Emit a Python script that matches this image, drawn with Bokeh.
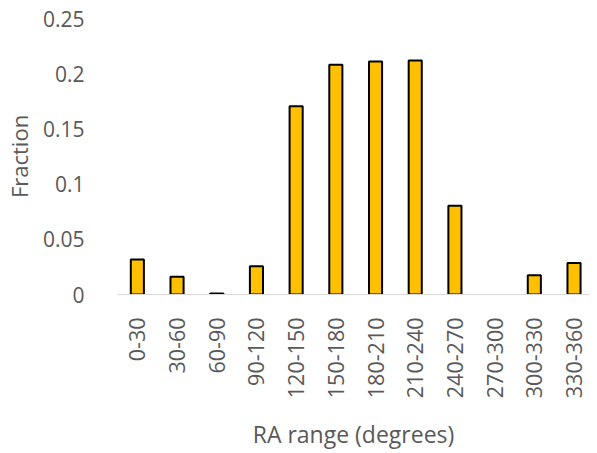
from bokeh.plotting import figure
from bokeh.models import FixedTicker, Range1d, ColumnDataSource
from bokeh.embed import file_html
from bokeh.resources import INLINE
import math

categories = ["0-30", "30-60", "60-90", "90-120", "120-150", "150-180",
              "180-210", "210-240", "240-270", "270-300", "300-330", "330-360"]
fractions = [0.0316, 0.016, 0.001, 0.0255, 0.1706, 0.208,
             0.211, 0.212, 0.0803, 0.0, 0.0174, 0.0286]
y_ticks = [0, 0.05, 0.1, 0.15, 0.2, 0.25]
y_tick_labels = ["0", "0.05", "0.1", "0.15", "0.2", "0.25"]

xs = list(range(len(categories)))
shown = [(x, f) for x, f in zip(xs, fractions) if f > 0]
src = ColumnDataSource(dict(x=[s[0] for s in shown], top=[s[1] for s in shown]))

p = figure(width=589, height=453, output_backend="svg", toolbar_location=None,
           x_range=Range1d(-0.5, 11.39), y_range=Range1d(0, 0.25),
           min_border_left=108, min_border_top=18, min_border_right=0,
           min_border_bottom=158)
p.outline_line_color = None
p.xgrid.visible = False
p.ygrid.visible = False

p.vbar(x="x", top="top", width=0.33, bottom=0, source=src,
       fill_color="#FFC000", line_color="black", line_width=2)

font = "Open Sans"
grey = "#595959"

p.xaxis.ticker = FixedTicker(ticks=xs)
p.xaxis.major_label_overrides = {i: c for i, c in enumerate(categories)}
p.xaxis.major_label_orientation = math.pi / 2
p.xaxis.axis_line_color = "#D9D9D9"
p.xaxis.axis_line_width = 1
p.xaxis.major_tick_line_color = None
p.xaxis.minor_tick_line_color = None
p.xaxis.major_label_standoff = 17
p.xaxis.major_label_text_font = font
p.xaxis.major_label_text_font_size = "21.5px"
p.xaxis.major_label_text_color = grey
p.xaxis.axis_label = "RA range (degrees)"
p.xaxis.axis_label_text_font = font
p.xaxis.axis_label_text_font_size = "23px"
p.xaxis.axis_label_text_font_style = "normal"
p.xaxis.axis_label_text_color = grey
p.xaxis.axis_label_standoff = 17

p.yaxis.ticker = FixedTicker(ticks=y_ticks)
p.yaxis.major_label_overrides = {t: l for t, l in zip(y_ticks, y_tick_labels)}
p.yaxis.axis_line_color = None
p.yaxis.major_tick_line_color = None
p.yaxis.minor_tick_line_color = None
p.yaxis.major_label_standoff = 27
p.yaxis.major_label_text_font = font
p.yaxis.major_label_text_font_size = "21px"
p.yaxis.major_label_text_color = grey
p.yaxis.axis_label = "Fraction"
p.yaxis.axis_label_text_font = font
p.yaxis.axis_label_text_font_size = "22px"
p.yaxis.axis_label_text_font_style = "normal"
p.yaxis.axis_label_text_color = grey
p.yaxis.axis_label_standoff = 6

open("out.html", "w").write(file_html(p, INLINE))
